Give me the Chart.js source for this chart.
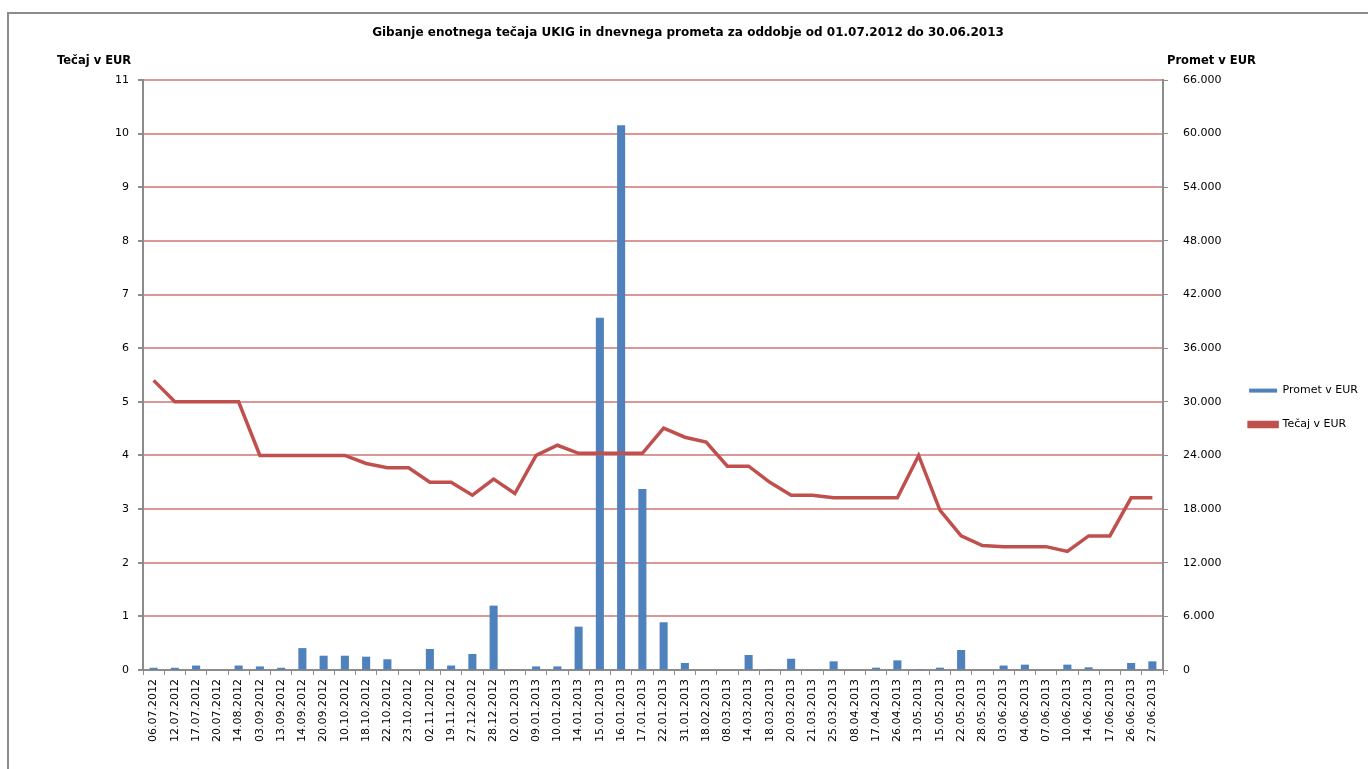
<!DOCTYPE html>
<html>
<head>
<meta charset="utf-8">
<script src="https://cdn.jsdelivr.net/npm/chart.js@4.4.1/dist/chart.umd.min.js"></script>
<style>
  html, body { margin: 0; padding: 0; background: #fff; overflow: hidden; }
  #wrap { position: relative; width: 1368px; height: 769px; }
  #frame { position: absolute; left: 7px; top: 12px; width: 1400px; height: 800px;
           border-left: 2px solid #8c8c8c; border-top: 2px solid #8c8c8c; pointer-events: none; }
  canvas { position: absolute; left: 0; top: 0; }
</style>
</head>
<body>
<div id="wrap">
  <canvas id="c" width="1368" height="769"></canvas>
  <div id="frame"></div>
</div>
<script>
const categories = ["06.07.2012","12.07.2012","17.07.2012","20.07.2012","14.08.2012","03.09.2012","13.09.2012","14.09.2012","20.09.2012","10.10.2012","18.10.2012","22.10.2012","23.10.2012","02.11.2012","19.11.2012","27.12.2012","28.12.2012","02.01.2013","09.01.2013","10.01.2013","14.01.2013","15.01.2013","16.01.2013","17.01.2013","22.01.2013","31.01.2013","18.02.2013","08.03.2013","14.03.2013","18.03.2013","20.03.2013","21.03.2013","25.03.2013","08.04.2013","17.04.2013","26.04.2013","13.05.2013","15.05.2013","22.05.2013","28.05.2013","03.06.2013","04.06.2013","07.06.2013","10.06.2013","14.06.2013","17.06.2013","26.06.2013","27.06.2013"];

const tecaj = [5.4,5.0,5.0,5.0,5.0,4.0,4.0,4.0,4.0,4.0,3.85,3.77,3.77,3.5,3.5,3.26,3.56,3.29,4.0,4.19,4.04,4.04,4.04,4.04,4.51,4.34,4.25,3.8,3.8,3.5,3.26,3.26,3.21,3.21,3.21,3.21,4.0,2.98,2.5,2.32,2.3,2.3,2.3,2.21,2.5,2.5,3.21,3.21];

const promet = [250,250,500,0,500,400,250,2450,1600,1600,1490,1200,0,2350,500,1790,7200,100,400,400,4850,39400,60950,20250,5340,780,0,0,1680,100,1260,0,970,0,260,1080,100,260,2240,0,500,600,0,600,300,0,780,970];

const titleText = "Gibanje enotnega tečaja UKIG in dnevnega prometa za oddobje od 01.07.2012 do 30.06.2013";
const leftAxisTitle = "Tečaj v EUR";
const rightAxisTitle = "Promet v EUR";
const seriesNames = ["Promet v EUR", "Tečaj v EUR"];

const FONT = "'DejaVu Sans', Verdana, sans-serif";
const PLOT_LEFT = 143, PLOT_RIGHT = 1163, PLOT_BOTTOM = 670;

function fmtThousands(v) {
  return String(v).replace(/\B(?=(\d{3})+(?!\d))/g, '.');
}

const axisTitles = {
  id: 'axisTitles',
  afterDraw(chart) {
    const ctx = chart.ctx;
    ctx.save();
    ctx.font = "bold 11.5px " + FONT;
    ctx.fillStyle = '#000';
    ctx.textBaseline = 'middle';
    ctx.textAlign = 'left';
    ctx.fillText(leftAxisTitle, 57, 61);
    ctx.fillText(rightAxisTitle, 1167, 61);
    ctx.restore();
  }
};

new Chart(document.getElementById('c'), {
  data: {
    labels: categories,
    datasets: [
      {
        type: 'bar',
        label: seriesNames[0],
        data: promet,
        yAxisID: 'y1',
        backgroundColor: '#4f81bd',
        borderColor: '#6f97c9',
        borderWidth: 0,
        barPercentage: 0.38,
        categoryPercentage: 1.0,
        order: 2
      },
      {
        type: 'line',
        label: seriesNames[1],
        data: tecaj,
        yAxisID: 'y',
        borderColor: '#c0504d',
        backgroundColor: '#c0504d',
        borderWidth: 3.5,
        pointRadius: 0,
        tension: 0,
        order: 1
      }
    ]
  },
  plugins: [axisTitles],
  options: {
    responsive: false,
    animation: false,
    layout: { padding: { top: 20, left: 8, right: 0, bottom: 0 } },
    plugins: {
      tooltip: { enabled: false },
      title: {
        display: true,
        text: titleText,
        color: '#000',
        font: { family: FONT, size: 12, weight: 'bold' },
        padding: { top: 6, bottom: 39.6 }
      },
      legend: {
        position: 'right',
        title: { display: true, text: ' ', font: { family: FONT, size: 11 }, padding: { top: 0, bottom: 13 } },
        labels: {
          color: '#000',
          font: { family: FONT, size: 11 },
          boxWidth: 28,
          boxHeight: 4,
          padding: 23,
          sort: (a, b) => a.datasetIndex - b.datasetIndex
        }
      }
    },
    scales: {
      x: {
        offset: true,
        grid: { display: true, drawOnChartArea: false, offset: true, tickLength: 5, tickColor: '#8c8c8c' },
        border: { color: '#8c8c8c', width: 2 },
        ticks: { color: '#000', font: { family: FONT, size: 11 }, minRotation: 90, maxRotation: 90, autoSkip: false, padding: 4 },
        afterFit(scale) { scale.height = 769 - PLOT_BOTTOM; }
      },
      y: {
        position: 'left',
        min: 0, max: 11,
        ticks: { stepSize: 1, color: '#000', font: { family: FONT, size: 11 }, padding: 9 },
        grid: { color: '#d99795', lineWidth: 2, tickLength: 5, tickColor: '#8c8c8c' },
        border: { color: '#8c8c8c', width: 2 },
        afterFit(scale) { scale.width = PLOT_LEFT - 8; }
      },
      y1: {
        position: 'right',
        min: 0, max: 66000,
        ticks: { stepSize: 6000, color: '#000', font: { family: FONT, size: 11 }, padding: 15,
                 callback: (v) => fmtThousands(v) },
        grid: { drawOnChartArea: false, tickLength: 5, tickColor: '#8c8c8c' },
        border: { color: '#8c8c8c', width: 2 },
        afterFit(scale) {
          const lw = scale.chart.legend ? scale.chart.legend.width : 130;
          scale.width = 1368 - PLOT_RIGHT - lw;
        }
      }
    }
  }
});
</script>
</body>
</html>
